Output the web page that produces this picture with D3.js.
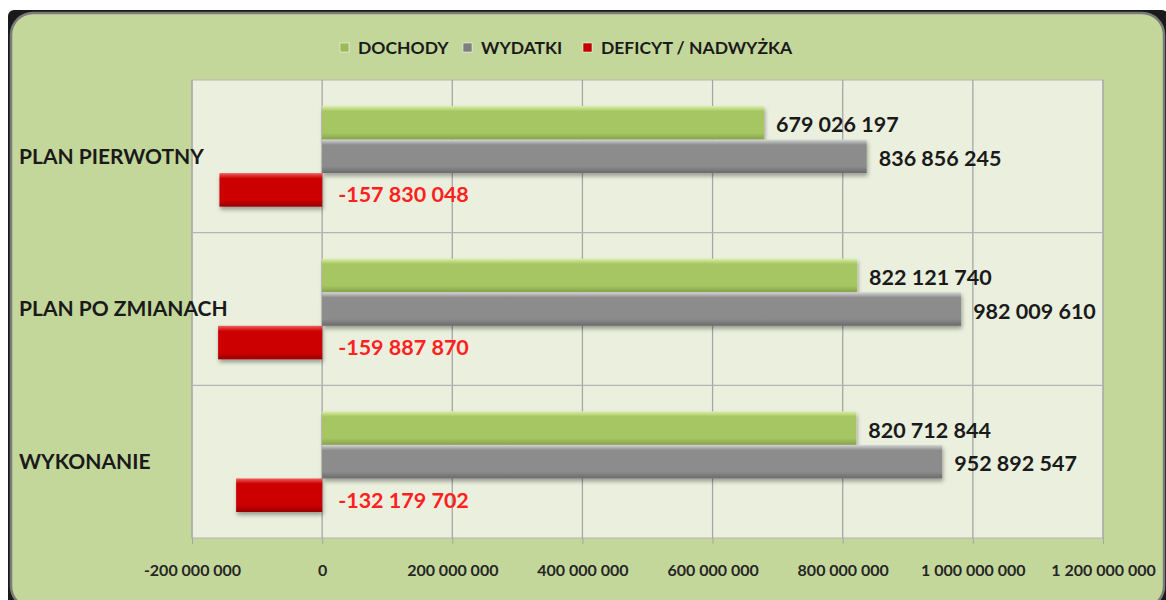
<!DOCTYPE html>
<html>
<head>
<meta charset="utf-8">
<script src="https://cdn.jsdelivr.net/npm/d3@7"></script>
<style>
  body { margin: 0; background: #ffffff; }
  text { font-family: Lato, "Open Sans", sans-serif; font-weight: bold; }
</style>
</head>
<body>
<div id="graph"></div>
<script>
// data
var categories = ["PLAN PIERWOTNY", "PLAN PO ZMIANACH", "WYKONANIE"];
var seriesNames = ["DOCHODY", "WYDATKI", "DEFICYT / NADWYŻKA"];
var dochody = [679026197, 822121740, 820712844];
var wydatki = [836856245, 982009610, 952892547];
var deficyt = [-157830048, -159887870, -132179702];
var xTicks = [-200000000, 0, 200000000, 400000000, 600000000, 800000000, 1000000000, 1200000000];

var W = 1166, H = 600;
var margin = { top: 80, right: 63, bottom: 62, left: 192 },
    width = W - margin.left - margin.right,
    height = H - margin.top - margin.bottom;

var svg = d3.select("#graph").append("svg")
    .attr("width", W)
    .attr("height", H);

var defs = svg.append("defs");

// bevel-like gradients for the bars
function bevel(id, light, mid, dark) {
  var g = defs.append("linearGradient").attr("id", id)
      .attr("x1", 0).attr("y1", 0).attr("x2", 0).attr("y2", 1);
  g.append("stop").attr("offset", "0%").attr("stop-color", light);
  g.append("stop").attr("offset", "16%").attr("stop-color", mid);
  g.append("stop").attr("offset", "80%").attr("stop-color", mid);
  g.append("stop").attr("offset", "100%").attr("stop-color", dark);
}
bevel("gGreen", "#dcf0a8", "#a6c663", "#86a34a");
bevel("gGray", "#d6d6d6", "#8c8c8c", "#6a6a6a");
bevel("gRed", "#f06060", "#cc0000", "#9a0000");
var fills = ["url(#gGreen)", "url(#gGray)", "url(#gRed)"];
var legendFills = ["#9bbb59", "#7f7f7f", "#c00000"];

var shadow = defs.append("filter").attr("id", "shadow")
    .attr("x", "-5%").attr("y", "-20%").attr("width", "115%").attr("height", "160%");
shadow.append("feDropShadow").attr("dx", 1).attr("dy", 3).attr("stdDeviation", 2)
    .attr("flood-color", "#000").attr("flood-opacity", 0.35);

// chart frame
svg.append("rect")
    .attr("x", 8).attr("y", 10).attr("width", 1160).attr("height", 600)
    .attr("rx", 6)
    .style("fill", "#1a1a1a");
svg.append("rect")
    .attr("x", 11).attr("y", 13).attr("width", 1153).attr("height", 595)
    .attr("rx", 22)
    .style("fill", "#c4d79b")
    .style("stroke", "#7a7a7a")
    .style("stroke-width", 2.5);

var g = svg.append("g")
    .attr("transform", "translate(" + margin.left + "," + margin.top + ")");

// scales
var x = d3.scaleLinear()
    .domain([-200000000, 1200000000])
    .range([0, width]);

var y0 = d3.scaleBand()
    .domain(categories)
    .range([0, height])
    .padding(0);

var y1 = d3.scaleBand()
    .domain(seriesNames)
    .range([26, y0.bandwidth() - 26])
    .padding(0);

// plot area
g.append("rect")
    .attr("width", width).attr("height", height)
    .style("fill", "#ebf0de")
    .style("stroke", "#b4b4b4")
    .style("stroke-width", 1);

// vertical gridlines
g.selectAll(".vgrid")
    .data(xTicks)
    .enter().append("line")
    .attr("class", "vgrid")
    .attr("x1", function(d) { return x(d); })
    .attr("x2", function(d) { return x(d); })
    .attr("y1", 0).attr("y2", height)
    .style("stroke", "#a6a6a6")
    .style("stroke-width", 1.3);

// horizontal separators between categories
g.selectAll(".hgrid")
    .data(categories.slice(1))
    .enter().append("line")
    .attr("class", "hgrid")
    .attr("x1", 0).attr("x2", width)
    .attr("y1", function(d) { return y0(d); })
    .attr("y2", function(d) { return y0(d); })
    .style("stroke", "#b4b4b4")
    .style("stroke-width", 1.3);

// numbers with spaces as thousands separator and a plain hyphen
var fmt = function(v) {
  return d3.format(",")(v).replace(/,/g, " ").replace("\u2212", "-");
};

// x axis
var xAxis = g.append("g")
    .attr("transform", "translate(0," + height + ")")
    .call(d3.axisBottom(x).tickValues(xTicks).tickSize(6).tickPadding(21).tickFormat(fmt));
xAxis.select(".domain").remove();
xAxis.selectAll(".tick line").style("stroke", "#a6a6a6");
xAxis.selectAll(".tick text")
    .style("font-family", "Lato, sans-serif")
    .style("font-weight", "bold")
    .style("font-size", "16px")
    .style("fill", "#262626");

// category labels
svg.selectAll(".cat")
    .data(categories)
    .enter().append("text")
    .attr("class", "cat")
    .attr("x", 19)
    .attr("y", function(d) { return margin.top + y0(d) + y0.bandwidth() / 2; })
    .attr("dy", "0.35em")
    .style("font-size", "21px")
    .style("fill", "#1a1a1a")
    .text(function(d) { return d; });

// bars
var rows = categories.map(function(c, i) {
  return { cat: c, values: [dochody[i], wydatki[i], deficyt[i]] };
});

var groups = g.selectAll(".grp")
    .data(rows)
    .enter().append("g")
    .attr("class", "grp")
    .attr("transform", function(d) { return "translate(0," + y0(d.cat) + ")"; });

groups.selectAll("rect")
    .data(function(d) {
      return d.values.map(function(v, j) { return { name: seriesNames[j], j: j, value: v }; });
    })
    .enter().append("rect")
    .attr("x", function(d) { return x(Math.min(0, d.value)); })
    .attr("y", function(d) { return y1(d.name); })
    .attr("width", function(d) { return Math.abs(x(d.value) - x(0)); })
    .attr("height", y1.bandwidth())
    .style("fill", function(d) { return fills[d.j]; })
    .attr("filter", "url(#shadow)");

// data labels
groups.selectAll(".lbl")
    .data(function(d) {
      return d.values.map(function(v, j) { return { name: seriesNames[j], j: j, value: v }; });
    })
    .enter().append("text")
    .attr("class", "lbl")
    .attr("x", function(d) { return d.value < 0 ? x(0) + 16 : x(d.value) + 12; })
    .attr("y", function(d) { return y1(d.name) + y1.bandwidth() / 2 + (d.value < 0 ? 5 : 2); })
    .attr("dy", "0.35em")
    .style("font-size", "21.5px")
    .style("fill", function(d) { return d.value < 0 ? "#ff2020" : "#1a1a1a"; })
    .text(function(d) { return fmt(d.value); });

// legend
var legendX = [340, 463, 583];
var legend = svg.selectAll(".leg")
    .data(seriesNames)
    .enter().append("g")
    .attr("class", "leg")
    .attr("transform", function(d, i) { return "translate(" + legendX[i] + ",43)"; });

legend.append("rect")
    .attr("width", 9).attr("height", 9)
    .style("fill", function(d, i) { return legendFills[i]; })
    .style("stroke", "#ffffff")
    .style("stroke-width", 0.5);

legend.append("text")
    .attr("x", 18)
    .attr("y", 5)
    .attr("dy", "0.35em")
    .style("font-size", "17.5px")
    .style("fill", "#1a1a1a")
    .text(function(d) { return d; });
</script>
</body>
</html>
